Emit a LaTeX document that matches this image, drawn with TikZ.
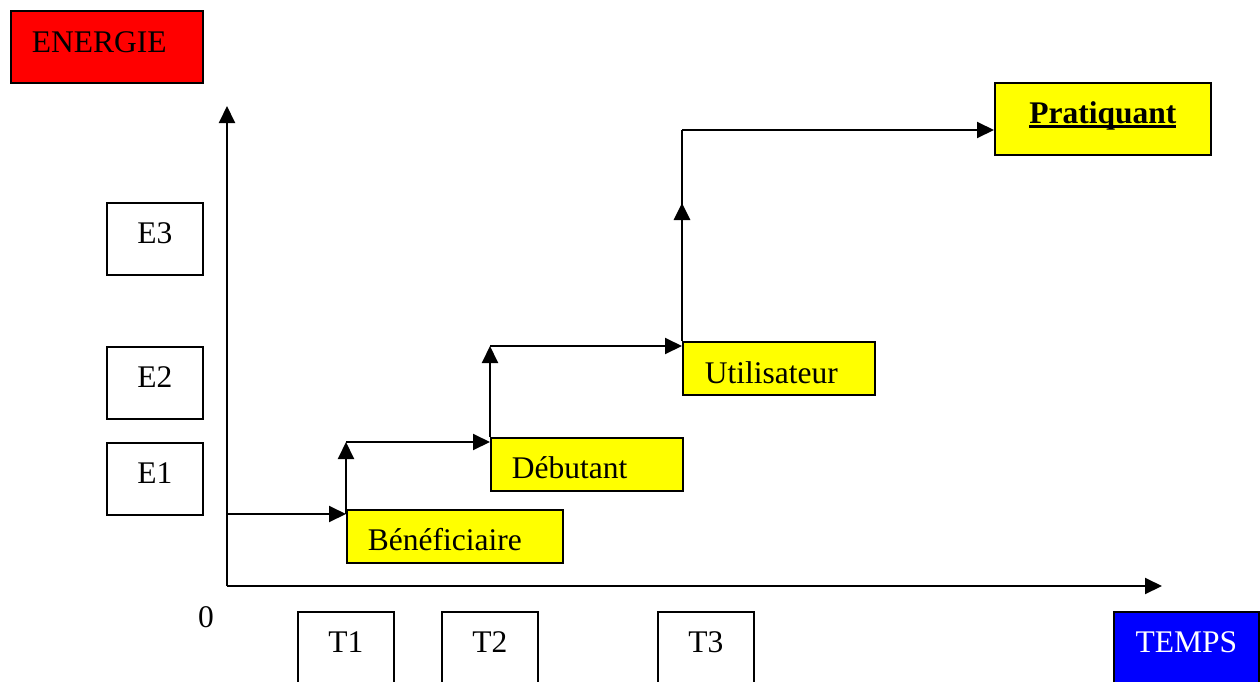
\documentclass[tikz,border=0pt]{standalone}
\usepackage{fontspec}
\setmainfont{Liberation Serif}
\usetikzlibrary{arrows.meta,calc}
\definecolor{yel}{RGB}{255,255,0}
\definecolor{rd}{RGB}{255,0,0}
\definecolor{bl}{RGB}{0,0,255}
\newcommand\myul[1]{\setbox0\hbox{#1}\rlap{\rule[-1.9pt]{\wd0}{1.3pt}}\box0}
\begin{document}
\begin{tikzpicture}[x=0.5pt,y=-0.5pt,
  every node/.style={font=\fontsize{15.75pt}{18pt}\selectfont},
  bx/.style={draw, line width=0.9pt, inner sep=0pt, anchor=north west, align=center},
  ebox/.style={bx, minimum width=48pt, text height=20.5pt, text depth=15.5pt},
  tbox/.style={bx, minimum width=48pt, text height=20.5pt, text depth=19.5pt},
  ybox/.style={bx, fill=yel, align=left},
  conn/.style={line width=1pt},
  arr/.style={line width=1pt, -{Triangle[length=8.5pt,width=8pt]}},
]
\useasboundingbox (0,0) rectangle (1260,681);

% labels
\node[bx, fill=rd, text width=96pt, align=left, text height=21pt, text depth=15pt] (energie) at (10,10) {\hspace*{10.5pt}ENERGIE};
\node[ebox] (e3) at (106,202) {E3};
\node[ebox] (e2) at (106,346) {E2};
\node[ebox] (e1) at (106,442) {E1};
\node[tbox] (t1) at (297,611) {T1};
\node[tbox] (t2) at (441,611) {T2};
\node[tbox] (t3) at (657,611) {T3};
\node[bx, fill=bl, text=white, minimum width=72.5pt, text height=20.5pt, text depth=19.5pt] (temps) at (1113,611) {TEMPS};
\node (zero) at (206,617) {0};

% stages
\node[ybox, text width=108pt, text height=20.5pt, text depth=6pt] (benef) at (346,509) {\hspace*{10.5pt}Bénéficiaire};
\node[ybox, text width=96pt, text height=20.5pt, text depth=6pt] (debut) at (490,437) {\hspace*{10.5pt}Débutant};
\node[ybox, text width=96pt, text height=21pt, text depth=5.5pt] (util) at (682,341) {\hspace*{11pt}Utilisateur};
\node[bx, fill=yel, minimum width=108pt, text height=20.5pt, text depth=15.5pt] (prat) at (994,82) {\myul{\textbf{Pratiquant}}};

% axes
\coordinate (O) at (227,586);
\coordinate (ytop) at (227,106);
\coordinate (xend) at (1162,586);
\draw[arr] (O) -- (ytop);
\draw[arr] (O) -- (xend);

% entry points
\coordinate (bin) at ($(benef.north west)+(0,5)$);
\coordinate (din) at ($(debut.north west)+(0,5)$);
\coordinate (uin) at ($(util.north west)+(0,5)$);
\coordinate (pin) at ($(prat.north west)+(0,48)$);
\coordinate (ystart) at (O |- bin);
\coordinate (bcorner) at (benef.north west |- din);
\coordinate (dcorner) at (debut.north west |- uin);
\coordinate (ucorner) at (util.north west |- pin);
\coordinate (mida) at ($(util.north west)+(0,-91)$);
\coordinate (midb) at ($(util.north west)+(0,-138)$);

\draw[arr] (ystart) -- (bin);
\draw[arr] (bin) -- (bcorner);
\draw[arr] (bcorner) -- (din);
\draw[arr] (debut.north west) -- (dcorner);
\draw[arr] (dcorner) -- (uin);
\draw[conn] (util.north west) -- (ucorner);
\draw[arr] (ucorner) -- (pin);
\draw[arr, line width=1.4pt] (mida) -- (midb);
\end{tikzpicture}
\end{document}
